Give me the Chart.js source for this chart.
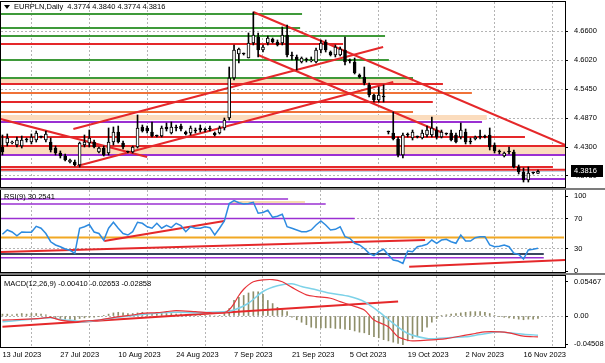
<!DOCTYPE html>
<html>
<head>
<meta charset="utf-8">
<title>EURPLN Daily</title>
<script src="https://cdn.jsdelivr.net/npm/chart.js@4.4.1/dist/chart.umd.min.js"></script>
<style>
  html, body { margin: 0; padding: 0; background: #fff; }
  #wrap { position: relative; width: 605px; height: 363px; overflow: hidden; background: #fff; }
  #wrap canvas { position: absolute; left: 0; }
  .sep { position: absolute; left: 0; width: 605px; height: 2px; background: #7c7c7c; }
</style>
</head>
<body>
<div id="wrap">
  <canvas id="priceChart" width="605" height="189" style="top:0"></canvas>
  <canvas id="rsiChart" width="605" height="85" style="top:189px"></canvas>
  <canvas id="macdChart" width="605" height="89" style="top:274px"></canvas>
  <div class="sep" style="top:188px"></div>
  <div class="sep" style="top:273px"></div>
</div>
<script>
// ---------------- data (bar index 0 = 13 Jul 2023, broker has Sunday bars) ----------------
const dateLabels = ['13 Jul 2023', '27 Jul 2023', '10 Aug 2023', '24 Aug 2023', '7 Sep 2023',
  '21 Sep 2023', '5 Oct 2023', '19 Oct 2023', '2 Nov 2023', '16 Nov 2023']
const priceTicks = [4.6600, 4.6020, 4.5450, 4.4870, 4.4300, 4.3730]
const rsiTicks = [100, 70, 30, 0]
const macdTicks = [0.05467, 0, -0.04508]

const open = [4.4300,4.4379,4.4379,4.4340,4.4320,4.4439,4.4399,4.4439,4.4498,4.4439,
  4.4399,4.4280,4.4181,4.4122,4.4003,4.4003,4.3943,4.4340,4.4379,4.4399,
  4.4201,4.4280,4.4181,4.4399,4.4597,4.4379,4.4201,4.4201,4.4300,4.4697,
  4.4677,4.4597,4.4518,4.4518,4.4697,4.4578,4.4677,4.4716,4.4597,4.4578,
  4.4617,4.4677,4.4637,4.4657,4.4578,4.4578,4.4677,4.4875,4.5668,4.6144,
  4.6144,4.6065,4.6362,4.6481,4.6224,4.6362,4.6442,4.6382,4.6362,4.6521,
  4.6124,4.6085,4.5986,4.6025,4.6005,4.5986,4.6224,4.6382,4.6184,4.6124,
  4.6124,4.6224,4.6005,4.5986,4.5728,4.5688,4.5530,4.5331,4.5232,4.5291,
  4.4597,4.4578,4.4459,4.4142,4.4538,4.4479,4.4498,4.4479,4.4538,4.4538,
  4.4637,4.4498,4.4558,4.4578,4.4538,4.4498,4.4597,4.4399,4.4459,4.4498,
  4.4498,4.4538,4.4340,4.4201,4.4122,4.4201,4.4201,4.3903,4.3804,4.3646,
  4.3784,4.3774]
const high = [4.4538,4.4558,4.4419,4.4498,4.4518,4.4479,4.4558,4.4617,4.4518,4.4617,
  4.4479,4.4320,4.4221,4.4161,4.4062,4.4042,4.4399,4.4538,4.4637,4.4439,
  4.4300,4.4320,4.4677,4.4697,4.4716,4.4419,4.4221,4.4320,4.4935,4.4736,
  4.4716,4.4796,4.4538,4.4716,4.4776,4.4796,4.4736,4.4756,4.4617,4.4716,
  4.4677,4.4736,4.4677,4.4716,4.4597,4.4716,4.4875,4.5886,4.6323,4.6263,
  4.6164,4.6561,4.6977,4.6561,4.6323,4.6501,4.6461,4.6422,4.6680,4.6719,
  4.6184,4.6124,4.6085,4.6065,4.6085,4.6263,4.6422,4.6422,4.6204,4.6323,
  4.6283,4.6481,4.6045,4.6065,4.5748,4.5886,4.5569,4.5351,4.5490,4.5530,
  4.4617,4.4994,4.4498,4.4578,4.4578,4.4637,4.4518,4.4637,4.4716,4.4895,
  4.4697,4.4637,4.4578,4.4637,4.4578,4.4776,4.4657,4.4479,4.4518,4.4637,
  4.4538,4.4677,4.4379,4.4241,4.4201,4.4300,4.4241,4.3943,4.3884,4.3903,
  4.3804,4.3840]
const low = [4.4142,4.4320,4.4360,4.4300,4.4280,4.4399,4.4360,4.4399,4.4479,4.4399,
  4.4201,4.4142,4.4082,4.4023,4.3983,4.3923,4.3903,4.4300,4.4300,4.4280,
  4.4181,4.4122,4.4142,4.4340,4.4379,4.4260,4.4181,4.4181,4.4280,4.4597,
  4.4578,4.4498,4.4498,4.4498,4.4617,4.4558,4.4617,4.4617,4.4538,4.4538,
  4.4578,4.4597,4.4597,4.4617,4.4518,4.4558,4.4637,4.4835,4.5629,4.5966,
  4.6124,4.6065,4.6323,4.6085,4.6184,4.6323,4.6362,4.6303,4.6323,4.6085,
  4.6025,4.5827,4.5966,4.5986,4.5986,4.5966,4.6164,4.6184,4.6105,4.6085,
  4.6105,4.5926,4.5966,4.5748,4.5668,4.5530,4.5291,4.5192,4.5192,4.5192,
  4.4558,4.4439,4.4102,4.4082,4.4498,4.4439,4.4479,4.4459,4.4498,4.4498,
  4.4459,4.4479,4.4538,4.4419,4.4379,4.4459,4.4360,4.4360,4.4439,4.4459,
  4.4479,4.4241,4.4181,4.4161,4.4102,4.4161,4.3884,4.3765,4.3606,4.3606,
  4.3765,4.3774]
const close = [4.4201,4.4479,4.4399,4.4439,4.4439,4.4439,4.4498,4.4578,4.4498,4.4558,
  4.4241,4.4181,4.4122,4.4042,4.4042,4.3943,4.4379,4.4399,4.4479,4.4300,
  4.4280,4.4142,4.4399,4.4597,4.4399,4.4300,4.4201,4.4300,4.4677,4.4617,
  4.4617,4.4518,4.4518,4.4677,4.4657,4.4697,4.4677,4.4657,4.4558,4.4677,
  4.4617,4.4637,4.4637,4.4657,4.4538,4.4677,4.4835,4.5668,4.6224,4.6243,
  4.6144,4.6362,4.6521,4.6224,4.6283,4.6461,4.6382,4.6323,4.6521,4.6124,
  4.6105,4.6025,4.6065,4.6025,4.6025,4.6224,4.6362,4.6224,4.6124,4.6283,
  4.6243,4.5986,4.6005,4.5767,4.5688,4.5569,4.5331,4.5232,4.5331,4.5291,
  4.4597,4.4459,4.4142,4.4538,4.4538,4.4597,4.4498,4.4578,4.4637,4.4677,
  4.4498,4.4597,4.4558,4.4439,4.4399,4.4637,4.4399,4.4399,4.4498,4.4498,
  4.4498,4.4300,4.4221,4.4201,4.4181,4.4201,4.3903,4.3804,4.3646,4.3784,
  4.3784,4.3816]
const bidPrice = 4.3816

// drawn objects on the price pane: [fromBar, toBar, price]
const greenLevels = [[-1, 62.1, 4.6938], [-1, 61.7, 4.6660], [-1, 79.3, 4.6501], [-1, 80.1, 4.6025], [-1, 85.1, 4.5668]]
const redLevels = [[-1, 70.6, 4.6342], [-1, 91.3, 4.5549], [-1, 89.2, 4.5193], [-1, 108.3, 4.4498],
  [-1, 118, 4.4320], [-1, 114.1, 4.3903], [-1, 118, 4.3850]]
const orangeLevels = [[-1, 97.3, 4.5371], [-1, 85.1, 4.4994]]
const purpleLevels = [[-1, 99.4, 4.4796], [-1, 118, 4.4142], [-1, 118, 4.3665]]
// [fromBar, toBar, top, bottom]
const priceBands = [[-1, 85.1, 4.5668, 4.5569], [-1, 100.4, 4.4935, 4.4835], [-1, 118, 4.4300, 4.4161]]
// [bar1, price1, bar2, price2]
const priceTrends = [[-0.4, 4.4855, 30, 4.4102], [15.5, 4.3923, 81, 4.5589], [14.7, 4.4657, 78.9, 4.6283],
  [52, 4.6977, 117.6, 4.4300], [53, 4.6124, 91.3, 4.4578]]

const rsi = [49,54.7,52,47,52,51.6,51.6,59.6,57,50, 39,34.7,32.4,29.3,27.6,23.6,57,59,62,52,
  50,41,57,65,57,50,48,52.4,65,63.6, 59,57,63.6,57,61,57.8,63.6,60.4,52.4,59,
  57,57,59,57.8,48,57,66.7,90,93.8,91, 89.3,90,91.6,77,78,81,71.6,73,75.6,59,
  57,54.7,52.4,52.4,54.7,61.3,66.7,61.3,54.7,55.6, 59,45.8,43.6,37,34.7,30,23.6,20.4,25.8,29,
  21.3,14.7,13.3,10.2,26.7,25.8,32.4,33.8,35.6,41.3, 37,41.3,42.2,39,37,48,40,40,44.4,45.8,
  45.8,34.7,32.4,33,34.7,32.4,23.6,22.2,16,28, 28.9,30.25]
const rsiPurple = [[-1, 59.2, 96], [-1, 67, 89.3], [-1, 73, 70], [-1, 112.2, 17.7]]
const rsiPale = [[47.6, 62.7, 92]]
const rsiOrange = [[-1, 116.4, 44.7]]
const rsiSlate = [[-1, 112.2, 22.7]]
const rsiTrends = [[-0.4, 25.3, 87.6, 41.3], [21.1, 40, 46, 66.7], [84.3, 5.7, 117, 14.7]]

const macdHist = [0.003,0.003,0.002,0.003,0.004,0.003,0.004,0.004,0.003,0.002,
  -0.002,-0.003,-0.004,-0.005,-0.005,-0.006,-0.004,-0.003,-0.002,-0.002,-0.001,
  0.001,0.003,0.005,0.006,0.005,0.004,0.004,0.005,0.006,0.005,
  0.004,0.004,0.005,0.004,0.004,0.003,0.003,0.002,0.002,0.001,0.001,0.001,0.001,0.000,0.001,
  0.004,
  0.012,0.025,0.030,0.033,0.037,0.039,0.039,0.035,0.025,0.020,0.014,0.010,0.007,
  -0.002,-0.006,-0.010,-0.014,-0.018,-0.019,-0.019,-0.019,-0.019,-0.020,-0.020,-0.021,-0.022,-0.024,-0.026,-0.027,
  -0.030,-0.033,-0.035,-0.038,-0.040,-0.042,-0.044,-0.046,-0.040,-0.036,-0.032,-0.025,-0.018,-0.010,-0.004,
  0.001,0.002,0.003,0.004,0.005,0.006,0.007,0.007,0.007,0.006,0.004,
  0.001,-0.001,-0.002,-0.003,-0.004,-0.005,-0.006,-0.005,-0.005,-0.004]
const macdMainAt = [0,4,8,10,12,15,17,20,22,24,27,29,32,34,36,40,43,46,47,48,49,50,51,52,54,56,58,60,63,65,
  68,70,72,75,77,80,82,84,85,88,90,92,96,98,100,103,105,108,111]
const macdMain = [-0.0065,-0.0054,-0.0038,-0.0022,-0.0065,-0.0092,-0.0081,-0.0065,-0.0038,-0.0011,
  0.0016,0.0043,0.0054,0.0070,0.0086,0.0070,0.0054,0.0054,0.0100,0.0200,
  0.0330,0.0430,0.0500,0.0550,0.0580,0.0585,0.0550,0.0460,0.0340,0.0313,
  0.0286,0.0232,0.0178,0.0097,-0.0065,-0.0173,-0.0335,-0.0389,-0.0400,-0.0389,
  -0.0378,-0.0362,-0.0308,-0.0281,-0.0254,-0.0254,-0.0270,-0.0324,-0.0335]
const signalAt = [0,4,8,10,12,15,17,20,24,28,32,36,40,46,48,51,54,57,60,62,65,68,72,75,78,81,84,88,90,93,
  96,99,103,105,108,111]
const signalVals = [-0.0092,-0.0065,-0.0038,-0.0027,-0.0054,-0.0076,-0.0092,-0.0065,-0.0022,0.0016,
  0.0043,0.0059,0.0054,0.0070,0.0097,0.0205,0.0394,0.0486,0.0518,0.0475,
  0.0421,0.0367,0.0313,0.0232,0.0070,-0.0119,-0.0281,-0.0362,-0.0362,-0.0346,
  -0.0335,-0.0297,-0.0254,-0.0270,-0.0292,-0.0308]
const macdTrends = [[0, -0.0173, 82, 0.0232]]

// ---------------- look ----------------
const FONT = { family: "'Liberation Sans', Arial, sans-serif", size: 7.5 }
const GRID = '#b4b4b4'
const NONE = 'rgba(0,0,0,0)'
const X_MIN = -0.3, X_MAX = 116.6
Chart.defaults.font.family = FONT.family
Chart.defaults.color = '#000'

const noPad = s => { s.paddingTop = 0; s.paddingBottom = 0; s.paddingLeft = 0; s.paddingRight = 0 }

const xAxis = (withLabels) => ({
  type: 'linear', min: X_MIN, max: X_MAX, offset: false,
  afterBuildTicks: s => { s.ticks = []; for (let v = 0; v <= 114; v += 6) s.ticks.push({ value: v }) },
  afterFit: s => { s.height = withLabels ? 16 : 0; noPad(s) },
  grid: { offset: false, drawTicks: false, color: c => (c.tick && c.tick.value % 12 === 6) ? GRID : NONE },
  border: { display: false, dash: [2, 2] },
  ticks: { display: withLabels, autoSkip: false, maxRotation: 0, align: 'start', padding: 3, font: FONT, color: '#000',
    callback: v => (v % 12 === 0 ? dateLabels[v / 12] : '') },
})

const yAxis = (min, max, ticks, label, gridOn) => ({
  position: 'right', min, max,
  afterBuildTicks: s => { s.ticks = ticks.map(v => ({ value: v })) },
  afterFit: s => { s.width = 40; noPad(s) },
  grid: { color: c => (c.tick && gridOn(c.tick.value)) ? GRID : NONE, tickColor: '#000', tickLength: 3 },
  border: { display: true, color: '#000', dash: [2, 2] },
  ticks: { autoSkip: false, padding: 6, font: FONT, color: '#000', callback: label },
})

const seg = (x1, y1, x2, y2, color, width, order = 5) => ({
  type: 'line', data: [{ x: x1, y: y1 }, { x: x2, y: y2 }], borderColor: color, borderWidth: width,
  pointRadius: 0, fill: false, order,
})
const level = (color, width) => l => seg(l[0], l[2], l[1], l[2], color, width)
const band = color => b => ({
  type: 'line', data: [{ x: b[0], y: b[2] }, { x: b[1], y: b[2] }], borderWidth: 0, pointRadius: 0,
  backgroundColor: color, fill: { value: b[3] }, order: 10,
})

// pane border + title text
const paneFrame = {
  id: 'paneFrame',
  afterDraw(chart, args, opts) {
    const { ctx, chartArea: a } = chart
    ctx.save()
    ctx.strokeStyle = '#000'
    ctx.lineWidth = 1
    ctx.strokeRect(a.left - 0.5, a.top - 0.5, a.right - a.left + 1, a.bottom - a.top + 1)
    ctx.font = `${FONT.size}px ${FONT.family}`
    ctx.fillStyle = '#000'
    ctx.textBaseline = 'middle'
    let x = a.left + 3
    const y = a.top + opts.dy
    if (opts.arrow) {
      ctx.beginPath(); ctx.moveTo(x, y - 2); ctx.lineTo(x + 6, y - 2); ctx.lineTo(x + 3, y + 2); ctx.closePath(); ctx.fill()
      x += 10
    }
    ctx.fillText(opts.text, x, y)
    ctx.restore()
  },
}
const bidBox = {
  id: 'bidBox',
  afterDraw(chart) {
    const { ctx, chartArea: a, scales } = chart
    const y = Math.round(scales.y.getPixelForValue(bidPrice))
    ctx.save()
    ctx.fillStyle = '#000'
    ctx.fillRect(a.right + 6, y - 6, 32, 12)
    ctx.fillStyle = '#fff'
    ctx.font = `${FONT.size}px ${FONT.family}`
    ctx.textBaseline = 'middle'
    ctx.fillText(bidPrice.toFixed(4), a.right + 9, y)
    ctx.restore()
  },
}

const base = (padding, title) => ({
  responsive: false, animation: false, devicePixelRatio: 1,
  layout: { padding, autoPadding: false },
  events: [],
  plugins: { legend: { display: false }, tooltip: { enabled: false }, paneFrame: title },
})

// ---------------- price pane ----------------
new Chart(document.getElementById('priceChart'), {
  type: 'bar',
  data: {
    datasets: [
      ...priceBands.map(band('#fbdcbd')),
      ...greenLevels.map(level('#3f9a3a', 2)),
      ...redLevels.map(level('#e5282a', 2)),
      ...orangeLevels.map(level('#f07238', 2)),
      ...purpleLevels.map(level('#9a30d2', 2)),
      seg(-1, bidPrice, 118, bidPrice, '#bccbe0', 1),
      ...priceTrends.map(t => seg(t[0], t[1], t[2], t[3], '#e5282a', 2, 4)),
      { type: 'bar', order: 2, grouped: false, barThickness: 1, backgroundColor: '#000',
        data: high.map((h, i) => ({ x: i, y: [low[i], h] })) },
      { type: 'bar', order: 1, grouped: false, barThickness: 3, minBarLength: 1, borderWidth: 1,
        borderColor: '#000', borderSkipped: false,
        backgroundColor: c => (close[c.dataIndex] > open[c.dataIndex] ? '#fff' : '#000'),
        data: open.map((o, i) => ({ x: i, y: [o, close[i]] })) },
    ],
  },
  options: {
    ...base({ left: 1, top: 2, right: 0, bottom: 2 },
      { text: 'EURPLN,Daily  4.3774 4.3840 4.3774 4.3816', dy: 5, arrow: true }),
    scales: {
      x: xAxis(false),
      y: yAxis(4.3507, 4.7175, priceTicks, v => v.toFixed(4), () => true),
    },
  },
  plugins: [paneFrame, bidBox],
})

// ---------------- RSI pane ----------------
new Chart(document.getElementById('rsiChart'), {
  type: 'line',
  data: {
    datasets: [
      ...rsiPale.map(level('#f6dcae', 2)),
      ...rsiPurple.map(level('#9a30d2', 1.5)),
      ...rsiOrange.map(level('#f1a823', 2)),
      ...rsiSlate.map(level('#3a465f', 2)),
      ...rsiTrends.map(t => seg(t[0], t[1], t[2], t[3], '#e5282a', 2, 4)),
      { type: 'line', order: 0, borderColor: '#2d8be0', borderWidth: 1.5, pointRadius: 0, fill: false,
        data: rsi.map((v, i) => ({ x: i, y: v })) },
    ],
  },
  options: {
    ...base({ left: 1, top: 1, right: 0, bottom: 2 }, { text: 'RSI(9) 30.2541', dy: 7 }),
    scales: {
      x: xAxis(false),
      y: yAxis(-1.33, 108, rsiTicks, v => String(v), v => v === 70 || v === 30),
    },
  },
  plugins: [paneFrame],
})

// ---------------- MACD pane ----------------
new Chart(document.getElementById('macdChart'), {
  type: 'bar',
  data: {
    datasets: [
      { type: 'bar', order: 3, grouped: false, barThickness: 1, backgroundColor: '#8e8e6a',
        data: macdHist.map((v, i) => ({ x: i, y: v })) },
      ...macdTrends.map(t => seg(t[0], t[1], t[2], t[3], '#e5282a', 2, 2)),
      { type: 'line', order: 1, borderColor: '#7dd2e8', borderWidth: 1.5, pointRadius: 0, fill: false, tension: 0.3,
        data: signalAt.map((x, i) => ({ x, y: signalVals[i] })) },
      { type: 'line', order: 0, borderColor: '#e8343a', borderWidth: 1.2, pointRadius: 0, fill: false, tension: 0.3,
        data: macdMainAt.map((x, i) => ({ x, y: macdMain[i] })) },
    ],
  },
  options: {
    ...base({ left: 1, top: 2, right: 0, bottom: 0 },
      { text: 'MACD(12,26,9) -0.00410 -0.02653 -0.02858', dy: 8 }),
    scales: {
      x: xAxis(true),
      y: yAxis(-0.0498, 0.0643, macdTicks, v => (v === 0 ? '0.00' : v.toFixed(5)), v => v === 0),
    },
  },
  plugins: [paneFrame],
})
</script>
</body>
</html>
